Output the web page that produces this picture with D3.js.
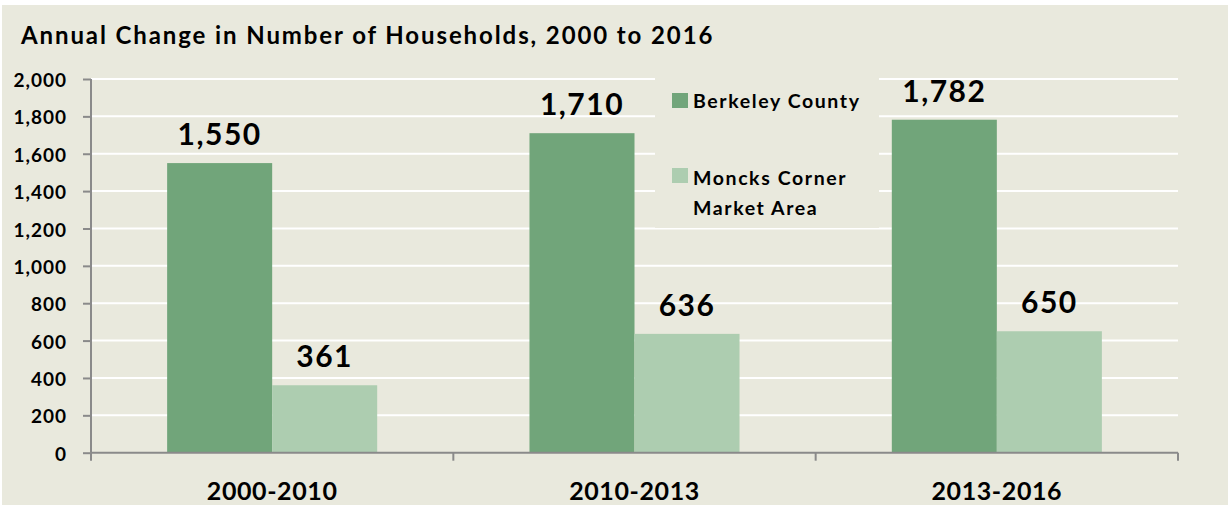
<!DOCTYPE html>
<html>
<head>
<meta charset="utf-8">
<script src="https://cdnjs.cloudflare.com/ajax/libs/d3/7.8.5/d3.min.js"></script>
<style>
  body { margin: 0; background: #ffffff; }
  svg text { font-family: Lato, "Open Sans", sans-serif; font-weight: bold; fill: #000; }
</style>
</head>
<body>
<div id="chart"></div>
<script>
var categories = ["2000-2010", "2010-2013", "2013-2016"];
var seriesNames = ["Berkeley County", "Moncks Corner Market Area"];
var berkeley = [1550, 1710, 1782];
var moncks = [361, 636, 650];
var yTicks = [0, 200, 400, 600, 800, 1000, 1200, 1400, 1600, 1800, 2000];
var colors = ["#71a57a", "#adcdb0"];

var svgWidth = 1228;
var svgHeight = 505;

var margin = { top: 79, right: 50, bottom: 52.3, left: 91 };
var width = svgWidth - margin.left - margin.right;
var height = svgHeight - margin.top - margin.bottom;

var svg = d3.select("#chart")
  .append("svg")
  .attr("width", svgWidth)
  .attr("height", svgHeight);

// background panel
svg.append("rect")
  .attr("x", 2).attr("y", 5)
  .attr("width", svgWidth - 2).attr("height", svgHeight - 5)
  .attr("fill", "#e9e9dd");

svg.append("text")
  .attr("x", 21).attr("y", 44)
  .attr("font-size", "24px")
  .attr("letter-spacing", "1.9px")
  .text("Annual Change in Number of Households, 2000 to 2016");

var chartGroup = svg.append("g")
  .attr("transform", `translate(${margin.left}, ${margin.top})`);

var data = categories.map((c, i) => ({ cat: c, values: [berkeley[i], moncks[i]] }));

var x0 = d3.scaleBand()
  .domain(categories)
  .range([0, width])
  .padding(0);

var x1 = d3.scaleBand()
  .domain([0, 1])
  .range([0, x0.bandwidth()])
  .paddingInner(0)
  .paddingOuter(0.725);

var yScale = d3.scaleLinear()
  .domain([0, 2000])
  .range([height, 0]);

// gridlines
chartGroup.append("g")
  .selectAll("line")
  .data(yTicks.filter(d => d > 0))
  .enter()
  .append("line")
  .attr("x1", 0).attr("x2", width)
  .attr("y1", d => yScale(d)).attr("y2", d => yScale(d))
  .attr("stroke", "#ffffff")
  .attr("stroke-width", 2);

// legend box hides gridlines behind it
var legend = svg.append("g");
legend.append("rect")
  .attr("x", 655).attr("y", 70)
  .attr("width", 224).attr("height", 158)
  .attr("fill", "#e9e9dd");

// bars
var groups = chartGroup.selectAll(".grp")
  .data(data)
  .enter()
  .append("g")
  .attr("transform", d => `translate(${x0(d.cat)}, 0)`);

groups.selectAll("rect")
  .data(d => d.values)
  .enter()
  .append("rect")
  .attr("x", (d, i) => x1(i))
  .attr("width", x1.bandwidth())
  .attr("y", d => yScale(d))
  .attr("height", d => height - yScale(d))
  .attr("fill", (d, i) => colors[i]);

groups.selectAll("text")
  .data(d => d.values)
  .enter()
  .append("text")
  .attr("x", (d, i) => x1(i) + x1.bandwidth() / 2)
  .attr("y", d => yScale(d) - 18)
  .attr("text-anchor", "middle")
  .attr("font-size", "30px")
  .attr("letter-spacing", "1.5px")
  .text(d => d3.format(",")(d));

// left axis
var leftAxis = d3.axisLeft(yScale)
  .tickValues(yTicks)
  .tickFormat(d3.format(","))
  .tickSize(8)
  .tickPadding(16);

var yAxisG = chartGroup.append("g").call(leftAxis);
yAxisG.select(".domain").attr("stroke", "#8a8a8a").attr("stroke-width", 2).attr("d", `M0,0V${height}`);
yAxisG.selectAll(".tick line").attr("stroke", "#8a8a8a").attr("stroke-width", 2);
yAxisG.selectAll(".tick text")
  .attr("font-family", "Lato, sans-serif")
  .attr("font-weight", "bold")
  .attr("font-size", "19px")
  .attr("letter-spacing", "1px")
  .attr("dy", "0.4em")
  .attr("fill", "#000");

// bottom axis
var xAxisG = chartGroup.append("g")
  .attr("transform", `translate(0, ${height})`);
xAxisG.append("line")
  .attr("x1", 0).attr("x2", width)
  .attr("stroke", "#8a8a8a").attr("stroke-width", 2);
xAxisG.selectAll(".bt")
  .data(d3.range(categories.length + 1))
  .enter()
  .append("line")
  .attr("x1", d => d * x0.step()).attr("x2", d => d * x0.step())
  .attr("y1", 0).attr("y2", 8)
  .attr("stroke", "#8a8a8a").attr("stroke-width", 2);
xAxisG.selectAll(".cl")
  .data(categories)
  .enter()
  .append("text")
  .attr("x", d => x0(d) + x0.bandwidth() / 2)
  .attr("y", 47)
  .attr("text-anchor", "middle")
  .attr("font-size", "25px")
  .attr("letter-spacing", "0.6px")
  .text(d => d);

// legend items
var legendRows = [
  { sy: 93, lines: ["Berkeley County"], ty: [108] },
  { sy: 168, lines: ["Moncks Corner", "Market Area"], ty: [185, 215] }
];
legendRows.forEach((r, i) => {
  legend.append("rect")
    .attr("x", 672).attr("y", r.sy)
    .attr("width", 16).attr("height", 15)
    .attr("fill", colors[i]);
  r.lines.forEach((t, j) => {
    legend.append("text")
      .attr("x", 693).attr("y", r.ty[j])
      .attr("font-size", "19.5px")
      .attr("letter-spacing", "1.6px")
      .text(t);
  });
});
</script>
</body>
</html>
